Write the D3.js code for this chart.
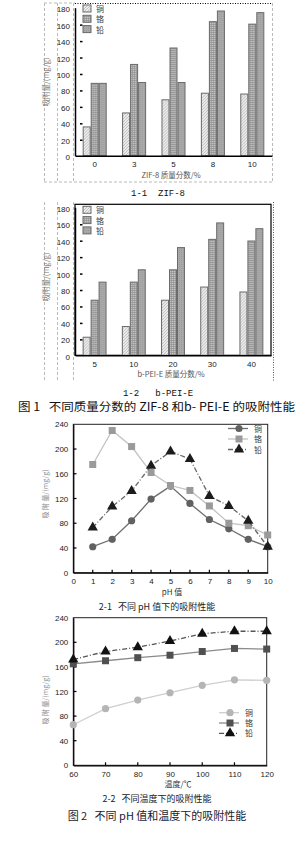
<!DOCTYPE html>
<html>
<head>
<meta charset="utf-8">
<script src="https://cdn.jsdelivr.net/npm/d3@7"></script>
<style>
  body { margin: 0; background: #fff; }
  svg { display: block; }
  text { font-family: "Noto Sans CJK SC", "Liberation Sans", sans-serif; white-space: pre; }
  .num { font-family: "Liberation Sans", sans-serif; }
  .mono { font-family: "Liberation Mono", "DejaVu Sans Mono", monospace; }
</style>
</head>
<body>
<div id="chart"></div>
<script>
// ---- data ----
const seriesNames = ["铜", "铬", "铅"];

const zifGroups = ["0", "3", "5", "8", "10"];
const zifCu = [35, 52, 68, 76, 75];
const zifCr = [88, 111, 131, 163, 160];
const zifPb = [88, 89, 89, 176, 174];

const peiGroups = ["5", "10", "20", "30", "40"];
const peiCu = [22, 35, 67, 83, 77];
const peiCr = [67, 89, 104, 141, 139];
const peiPb = [89, 104, 131, 161, 154];

const phValues = [1, 2, 3, 4, 5, 6, 7, 8, 9, 10];
const phCu = [42, 54, 84, 119, 140, 112, 86, 71, 54, 42];
const phCr = [175, 230, 204, 162, 141, 133, 108, 80, 76, 61];
const phPb = [73, 107, 132, 173, 196, 184, 124, 108, 84, 42];

const tempValues = [60, 70, 80, 90, 100, 110, 120];
const tempCu = [66, 92, 106, 118, 130, 139, 138];
const tempCr = [165, 170, 175, 179, 185, 190, 189];
const tempPb = [172, 185, 192, 202, 214, 218, 218];

const barTicks = d3.range(0, 181, 20);
const lineTicks = d3.range(0, 241, 40);

const svg = d3.select("#chart").append("svg")
  .attr("width", 304)
  .attr("height", 842);

// patterns for the bars
const defs = svg.append("defs");
const hatch = defs.append("pattern").attr("id", "hatch")
  .attr("patternUnits", "userSpaceOnUse").attr("width", 3).attr("height", 3);
hatch.append("rect").attr("width", 3).attr("height", 3).attr("fill", "#ececec");
hatch.append("path").attr("d", "M0,3 L3,0").attr("stroke", "#b4b4b4").attr("stroke-width", 0.8);

const grid = defs.append("pattern").attr("id", "grid")
  .attr("patternUnits", "userSpaceOnUse").attr("width", 2).attr("height", 2);
grid.append("rect").attr("width", 2).attr("height", 2).attr("fill", "#c4c4c4");
grid.append("path").attr("d", "M0,0.5 H2 M0.5,0 V2").attr("stroke", "#8c8c8c").attr("stroke-width", 0.6);

const dots = defs.append("pattern").attr("id", "dots")
  .attr("patternUnits", "userSpaceOnUse").attr("width", 2).attr("height", 2);
dots.append("rect").attr("width", 2).attr("height", 2).attr("fill", "#a9a9a9");
dots.append("rect").attr("width", 1).attr("height", 1).attr("fill", "#9a9a9a");

const barFills = ["url(#hatch)", "url(#grid)", "url(#dots)"];

function dashed(x1, y1, x2, y2, dash, color) {
  svg.append("line")
    .attr("x1", x1).attr("y1", y1).attr("x2", x2).attr("y2", y2)
    .attr("stroke", color || "#bbb")
    .attr("stroke-width", 1)
    .attr("stroke-dasharray", dash || "3,2");
}

function barChart(cfg) {
  const x0 = d3.scaleBand()
    .domain(cfg.groups)
    .range([cfg.left, cfg.right])
    .paddingInner(0.39)
    .paddingOuter(0.195);
  const x1 = d3.scaleBand().domain(seriesNames).range([0, x0.bandwidth()]);
  const y = d3.scaleLinear().domain([0, 180]).range([cfg.bottom, cfg.bottom - 148]);

  const g = svg.append("g");
  const rows = cfg.groups.map((grp, i) => ({
    group: grp,
    vals: [cfg.cu[i], cfg.cr[i], cfg.pb[i]]
  }));

  g.selectAll(".grp")
    .data(rows)
    .join("g")
    .attr("transform", d => `translate(${x0(d.group)},0)`)
    .selectAll("rect")
    .data(d => d.vals.map((v, k) => ({ name: seriesNames[k], v, k })))
    .join("rect")
    .attr("x", d => x1(d.name) + 0.5)
    .attr("y", d => y(d.v))
    .attr("width", x1.bandwidth() - 1)
    .attr("height", d => cfg.bottom - y(d.v))
    .attr("fill", d => barFills[d.k])
    .attr("stroke", "#6a6a6a")
    .attr("stroke-width", 1);

  // y axis
  const ya = g.append("g")
    .attr("transform", `translate(${cfg.left},0)`)
    .call(d3.axisLeft(y).tickValues(barTicks).tickSize(0).tickPadding(5));
  ya.select(".domain").attr("stroke", "#000").attr("stroke-width", 1.5);
  ya.selectAll("text").attr("class", "num").attr("font-size", 8).attr("fill", "#222").attr("dy", "0.5em");

  g.selectAll(".ymark")
    .data(barTicks.slice(1, -1))
    .join("line")
    .attr("x1", cfg.left + 5).attr("x2", cfg.left + 7.5)
    .attr("y1", d => y(d) + 1).attr("y2", d => y(d) + 1)
    .attr("stroke", "#000").attr("stroke-width", 1.5);

  // x axis
  const xa = g.append("g")
    .attr("transform", `translate(0,${cfg.bottom})`)
    .call(d3.axisBottom(x0).tickSize(0).tickPadding(6).tickSizeOuter(0));
  xa.select(".domain").attr("stroke", "#000").attr("stroke-width", 1.5);
  xa.selectAll("text").attr("class", "num").attr("font-size", 8).attr("fill", "#222");

  // legend
  seriesNames.forEach((n, k) => {
    const ly = cfg.top + 2 + k * 10.3;
    g.append("rect")
      .attr("x", cfg.left + 8).attr("y", ly)
      .attr("width", 8).attr("height", 7)
      .attr("fill", barFills[k]).attr("stroke", "#6a6a6a");
    g.append("text")
      .attr("x", cfg.left + 21).attr("y", ly + 7)
      .attr("font-size", 8).attr("fill", "#333")
      .text(n);
  });

  g.append("text")
    .attr("transform", `translate(49,${cfg.ylabelY}) rotate(-90)`)
    .attr("text-anchor", "middle")
    .attr("font-size", 7.5).attr("fill", "#777")
    .text("吸附量/(mg/g)");

  g.append("text")
    .attr("x", 171).attr("y", cfg.bottom + 22)
    .attr("text-anchor", "middle")
    .attr("font-size", 7.5).attr("fill", "#555")
    .text(cfg.xTitle);
}

// ---- figure 1 ----
// frames
[44.5, 57.5, 73.5].forEach(x => dashed(x, 3, x, 182));
dashed(44, 3, 75, 3);
dashed(44, 182, 272, 182);
dashed(272.5, 3, 272.5, 182);
svg.append("line").attr("x1", 75).attr("x2", 272).attr("y1", 3.5).attr("y2", 3.5)
  .attr("stroke", "#000").attr("stroke-dasharray", "1,1.5");

barChart({
  groups: zifGroups, cu: zifCu, cr: zifCr, pb: zifPb,
  left: 75, right: 272, top: 3, bottom: 155.7,
  ylabelY: 82, xTitle: "ZIF-8 质量分数/%"
});

svg.append("text")
  .attr("class", "mono")
  .attr("x", 158).attr("y", 196)
  .attr("text-anchor", "middle")
  .attr("font-size", 9).attr("fill", "#111")
  .text("1-1  ZIF-8");

[44.5, 57.5, 73.5].forEach(x => dashed(x, 202, x, 382));
dashed(273.5, 202, 273.5, 382, "1,1.5", "#555");
svg.append("rect").attr("x", 75).attr("y", 204.3).attr("width", 196).attr("height", 151)
  .attr("fill", "none").attr("stroke", "#000").attr("stroke-width", 1.2);

barChart({
  groups: peiGroups, cu: peiCu, cr: peiCr, pb: peiPb,
  left: 75, right: 271, top: 204.3, bottom: 355.3,
  ylabelY: 277, xTitle: "b-PEI-E 质量分数/%"
});

svg.append("text")
  .attr("class", "mono")
  .attr("x", 158).attr("y", 396)
  .attr("text-anchor", "middle")
  .attr("font-size", 9).attr("fill", "#111")
  .text("1-2   b-PEI-E");

svg.append("text")
  .attr("x", 18).attr("y", 411)
  .attr("font-size", 11.5).attr("fill", "#111")
  .attr("textLength", 277).attr("lengthAdjust", "spacingAndGlyphs")
  .text("图 1   不同质量分数的 ZIF-8 和b- PEI-E 的吸附性能");

// ---- figure 2 ----
function drawMarker(sel, shape, size, color) {
  if (shape === "circle") {
    sel.append("circle").attr("r", size).attr("fill", color);
  } else if (shape === "square") {
    sel.append("rect").attr("x", -size).attr("y", -size)
      .attr("width", size * 2).attr("height", size * 2).attr("fill", color);
  } else {
    sel.append("path").attr("d", d3.symbol(d3.symbolTriangle, size * size * 3.2)).attr("fill", color);
  }
}

function lineChart(cfg) {
  const x = d3.scaleLinear().domain(cfg.xDomain).range([73.3, cfg.right]);
  const y = d3.scaleLinear().domain([0, 240]).range([cfg.bottom, cfg.top]);
  const g = svg.append("g");

  g.append("rect")
    .attr("x", 73.3).attr("y", cfg.top)
    .attr("width", cfg.right - 73.3).attr("height", cfg.bottom - cfg.top)
    .attr("fill", "none").attr("stroke", "#222").attr("stroke-width", 1);

  const ya = g.append("g").attr("transform", "translate(73.3,0)")
    .call(d3.axisLeft(y).tickValues(lineTicks).tickSize(0).tickPadding(5));
  ya.select(".domain").attr("stroke", "#000").attr("stroke-width", 1.2);
  ya.selectAll("text").attr("class", "num").attr("font-size", 8).attr("fill", "#222");

  g.selectAll(".ym").data(lineTicks.slice(1, -1)).join("line")
    .attr("x1", 73.3).attr("x2", 76.5)
    .attr("y1", d => y(d)).attr("y2", d => y(d))
    .attr("stroke", "#000").attr("stroke-width", 1.2);

  const xa = g.append("g").attr("transform", `translate(0,${cfg.bottom})`)
    .call(d3.axisBottom(x).tickValues(cfg.xTicks).tickSize(0).tickPadding(6).tickFormat(d3.format("d")));
  xa.select(".domain").attr("stroke", "#000").attr("stroke-width", 1.2);
  xa.selectAll("text").attr("class", "num").attr("font-size", 8).attr("fill", "#222");

  g.selectAll(".xm").data(cfg.xTicks.slice(1, -1)).join("line")
    .attr("x1", d => x(d)).attr("x2", d => x(d))
    .attr("y1", cfg.bottom).attr("y2", cfg.bottom - 3)
    .attr("stroke", "#000").attr("stroke-width", 1.2);

  const line = d3.line().x(d => x(d[0])).y(d => y(d[1]));
  cfg.series.forEach(s => {
    const pts = cfg.xs.map((xv, i) => [xv, s.values[i]]);
    g.append("path").datum(pts)
      .attr("fill", "none")
      .attr("stroke", s.line)
      .attr("stroke-width", 1.3)
      .attr("stroke-dasharray", s.dash)
      .attr("d", line);
    pts.forEach(p => {
      const m = g.append("g").attr("transform", `translate(${x(p[0])},${y(p[1])})`);
      drawMarker(m, s.shape, s.size, s.marker);
    });
  });

  // legend
  cfg.series.forEach((s, k) => {
    const ly = cfg.legend.y + k * cfg.legend.step;
    g.append("line")
      .attr("x1", cfg.legend.x - 11).attr("x2", cfg.legend.x + 9)
      .attr("y1", ly).attr("y2", ly)
      .attr("stroke", s.line).attr("stroke-width", 1.3)
      .attr("stroke-dasharray", s.dash);
    drawMarker(g.append("g").attr("transform", `translate(${cfg.legend.x},${ly})`), s.shape, s.size, s.marker);
    g.append("text")
      .attr("x", cfg.legend.x + 15).attr("y", ly + 3)
      .attr("font-size", 8).attr("fill", "#333")
      .text(seriesNames[k]);
  });

  g.append("text")
    .attr("transform", `translate(48,${cfg.ylabelY}) rotate(-90)`)
    .attr("text-anchor", "middle")
    .attr("font-size", 7).attr("fill", "#888")
    .text("吸 附 量/(mg/g)");

  g.append("text")
    .attr("x", cfg.xTitleX).attr("y", cfg.bottom + 22)
    .attr("text-anchor", "middle")
    .attr("font-size", 8).attr("fill", "#333")
    .text(cfg.xTitle);

  g.append("text")
    .attr("x", 157).attr("y", cfg.bottom + 37)
    .attr("text-anchor", "middle")
    .attr("font-size", 9).attr("fill", "#222")
    .text(cfg.title);
}

lineChart({
  xDomain: [0, 10], xTicks: d3.range(0, 11), xs: phValues,
  right: 267.7, top: 424.3, bottom: 572.7,
  series: [
    { values: phCu, shape: "circle", size: 3.6, marker: "#616161", line: "#6e6e6e", dash: null },
    { values: phCr, shape: "square", size: 3.5, marker: "#9a9a9a", line: "#c2c2c2", dash: null },
    { values: phPb, shape: "triangle", size: 3.8, marker: "#1c1c1c", line: "#666", dash: "5,2,1,2" }
  ],
  legend: { x: 239, y: 428.5, step: 10.5 },
  ylabelY: 494, xTitle: "pH 值", xTitleX: 172, title: "2-1   不同 pH 值下的吸附性能"
});

lineChart({
  xDomain: [60, 120], xTicks: d3.range(60, 121, 10), xs: tempValues,
  right: 266.7, top: 617.7, bottom: 765.3,
  series: [
    { values: tempCu, shape: "circle", size: 3.6, marker: "#b5b5b5", line: "#cfcfcf", dash: null },
    { values: tempCr, shape: "square", size: 3.5, marker: "#505050", line: "#8a8a8a", dash: null },
    { values: tempPb, shape: "triangle", size: 3.8, marker: "#111", line: "#555", dash: "5,2,1,2" }
  ],
  legend: { x: 230, y: 712.7, step: 10.3 },
  ylabelY: 700, xTitle: "温度/℃", xTitleX: 178, title: "2-2   不同温度下的吸附性能"
});

svg.append("text")
  .attr("x", 157).attr("y", 820)
  .attr("text-anchor", "middle")
  .attr("font-size", 11).attr("fill", "#1a1a2e")
  .text("图 2   不同 pH 值和温度下的吸附性能");
</script>
</body>
</html>
